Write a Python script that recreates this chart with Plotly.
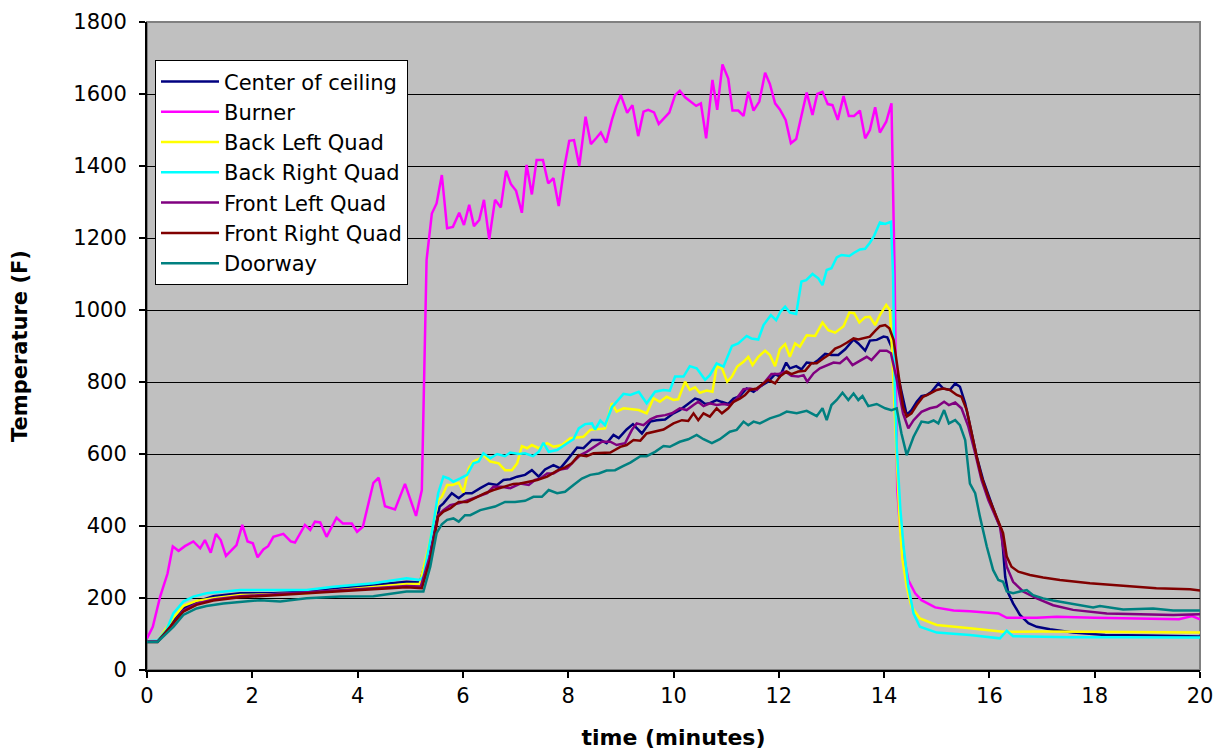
import plotly.graph_objects as go

# ---------------- data ----------------
t_ceiling = [0, 0.2, 0.35, 0.5, 0.69, 0.94, 1.26, 1.77, 2.4, 3.03, 3.67, 4.3, 4.93, 5.18, 5.38, 5.56, 5.63, 5.79, 5.92, 6.04, 6.17, 6.33, 6.49, 6.65, 6.77, 6.9, 7.03, 7.18, 7.31, 7.44, 7.56, 7.72, 7.85, 7.98, 8.17, 8.29, 8.45, 8.61, 8.73, 8.86, 8.96, 9.11, 9.23, 9.4, 9.56, 9.68, 9.84, 10.0, 10.12, 10.25, 10.41, 10.5, 10.6, 10.69, 10.82, 10.91, 11.04, 11.14, 11.26, 11.39, 11.52, 11.64, 11.8, 11.93, 12.02, 12.14, 12.21, 12.33, 12.43, 12.53, 12.66, 12.75, 12.88, 13.0, 13.13, 13.26, 13.42, 13.51, 13.64, 13.73, 13.86, 13.99, 14.06, 14.14, 14.27, 14.43, 14.52, 14.62, 14.71, 14.81, 14.9, 15.03, 15.12, 15.25, 15.35, 15.44, 15.54, 15.63, 15.76, 15.88, 16.01, 16.14, 16.23, 16.26, 16.3, 16.36, 16.45, 16.58, 16.74, 16.9, 17.15, 17.59, 18.2, 19.0, 20.0]
ceiling = [79, 80, 105, 139, 171, 190, 205, 213, 213, 218, 227, 236, 245, 243, 343, 454, 463, 491, 477, 491, 491, 505, 518, 514, 528, 530, 537, 542, 555, 537, 557, 569, 560, 583, 618, 616, 639, 639, 630, 653, 644, 668, 683, 657, 690, 694, 696, 713, 722, 736, 754, 750, 739, 741, 750, 745, 739, 754, 761, 782, 773, 787, 801, 822, 815, 854, 838, 844, 835, 854, 852, 861, 878, 875, 875, 891, 918, 907, 887, 915, 917, 926, 924, 898, 810, 708, 722, 745, 761, 764, 773, 796, 782, 778, 796, 787, 741, 676, 592, 528, 472, 421, 389, 342, 259, 213, 185, 153, 130, 120, 113, 104, 97, 96, 93]

t_burner = [0, 0.11, 0.25, 0.39, 0.49, 0.6, 0.72, 0.88, 1.01, 1.1, 1.21, 1.31, 1.4, 1.5, 1.7, 1.81, 1.91, 2.01, 2.1, 2.21, 2.3, 2.4, 2.59, 2.73, 2.81, 3.0, 3.1, 3.19, 3.29, 3.41, 3.6, 3.72, 3.89, 3.99, 4.1, 4.3, 4.4, 4.52, 4.71, 4.9, 5.11, 5.22, 5.31, 5.41, 5.5, 5.6, 5.7, 5.81, 5.93, 6.02, 6.12, 6.21, 6.31, 6.4, 6.5, 6.61, 6.72, 6.82, 6.91, 7.01, 7.12, 7.21, 7.31, 7.4, 7.52, 7.62, 7.72, 7.82, 7.92, 8.02, 8.11, 8.21, 8.33, 8.43, 8.53, 8.62, 8.72, 8.83, 8.91, 9.0, 9.12, 9.22, 9.33, 9.43, 9.52, 9.63, 9.72, 9.83, 9.92, 10.03, 10.12, 10.22, 10.31, 10.43, 10.52, 10.62, 10.74, 10.83, 10.93, 11.04, 11.12, 11.23, 11.33, 11.42, 11.52, 11.63, 11.74, 11.83, 11.93, 12.02, 12.13, 12.23, 12.33, 12.43, 12.53, 12.64, 12.73, 12.83, 12.93, 13.02, 13.12, 13.23, 13.33, 13.43, 13.54, 13.64, 13.73, 13.83, 13.92, 14.04, 14.14, 14.2, 14.25, 14.3, 14.37, 14.46, 14.59, 14.71, 14.97, 15.32, 15.63, 16.17, 16.33, 16.9, 17.28, 18.0, 19.18, 19.6, 19.85, 20.0]
burner = [88, 120, 204, 268, 343, 331, 344, 357, 338, 361, 326, 378, 361, 317, 347, 403, 357, 352, 313, 335, 344, 370, 378, 357, 354, 403, 389, 412, 410, 370, 423, 407, 407, 384, 398, 520, 534, 455, 446, 517, 428, 500, 1139, 1268, 1296, 1375, 1227, 1231, 1270, 1236, 1292, 1233, 1250, 1306, 1196, 1306, 1285, 1387, 1350, 1331, 1270, 1403, 1321, 1417, 1417, 1352, 1366, 1289, 1391, 1470, 1472, 1400, 1537, 1461, 1477, 1493, 1465, 1528, 1565, 1597, 1548, 1569, 1483, 1551, 1556, 1549, 1517, 1535, 1548, 1597, 1609, 1591, 1581, 1567, 1574, 1477, 1639, 1556, 1682, 1643, 1554, 1554, 1539, 1606, 1554, 1579, 1659, 1628, 1574, 1557, 1528, 1463, 1475, 1542, 1604, 1542, 1600, 1606, 1572, 1569, 1528, 1594, 1539, 1539, 1554, 1477, 1500, 1563, 1493, 1523, 1574, 1100, 500, 400, 320, 250, 213, 194, 174, 165, 163, 157, 145, 145, 148, 145, 143, 141, 150, 141]

t_back_left = [0, 0.2, 0.5, 0.69, 0.94, 1.26, 1.77, 2.4, 3.03, 3.67, 4.3, 4.93, 5.18, 5.38, 5.53, 5.6, 5.7, 5.8, 5.92, 6.01, 6.11, 6.2, 6.33, 6.39, 6.52, 6.68, 6.8, 6.93, 7.03, 7.12, 7.22, 7.31, 7.44, 7.6, 7.72, 7.88, 8.04, 8.17, 8.29, 8.42, 8.54, 8.7, 8.83, 8.92, 9.05, 9.18, 9.34, 9.49, 9.62, 9.74, 9.87, 10.0, 10.09, 10.22, 10.31, 10.41, 10.5, 10.63, 10.74, 10.82, 10.92, 11.02, 11.11, 11.21, 11.33, 11.42, 11.5, 11.61, 11.74, 11.83, 11.93, 12.02, 12.12, 12.21, 12.31, 12.4, 12.53, 12.69, 12.83, 12.94, 13.07, 13.23, 13.34, 13.43, 13.53, 13.64, 13.73, 13.83, 13.92, 14.04, 14.11, 14.16, 14.21, 14.24, 14.27, 14.3, 14.35, 14.43, 14.52, 14.68, 15.0, 15.63, 16.26, 17.0, 18.0, 19.0, 20.0]
back_left = [79, 80, 145, 178, 192, 199, 208, 211, 213, 222, 230, 239, 239, 361, 472, 481, 514, 514, 520, 493, 560, 579, 588, 597, 579, 574, 555, 555, 574, 622, 616, 625, 616, 630, 620, 625, 644, 646, 648, 667, 668, 671, 741, 718, 727, 724, 722, 713, 755, 745, 759, 750, 752, 801, 778, 785, 770, 776, 773, 843, 838, 801, 815, 843, 856, 870, 847, 870, 887, 875, 844, 891, 905, 870, 907, 898, 930, 928, 965, 944, 937, 955, 993, 991, 965, 980, 981, 958, 986, 1014, 1000, 861, 676, 583, 491, 398, 305, 231, 176, 143, 125, 116, 106, 107, 106, 105, 104]

t_back_right = [0, 0.2, 0.37, 0.5, 0.69, 0.88, 1.13, 1.45, 1.77, 2.4, 3.03, 3.54, 4.3, 4.93, 5.18, 5.25, 5.44, 5.53, 5.63, 5.73, 5.82, 5.95, 6.08, 6.2, 6.3, 6.39, 6.52, 6.65, 6.8, 6.9, 7.06, 7.18, 7.33, 7.44, 7.53, 7.63, 7.79, 7.98, 8.1, 8.2, 8.32, 8.45, 8.51, 8.61, 8.7, 8.83, 8.92, 9.05, 9.18, 9.34, 9.49, 9.65, 9.81, 9.93, 10.03, 10.19, 10.31, 10.44, 10.6, 10.69, 10.82, 10.95, 11.11, 11.23, 11.39, 11.48, 11.61, 11.71, 11.85, 11.95, 12.03, 12.12, 12.21, 12.33, 12.43, 12.52, 12.64, 12.75, 12.83, 12.91, 13.0, 13.1, 13.19, 13.34, 13.43, 13.54, 13.64, 13.73, 13.81, 13.92, 14.02, 14.13, 14.17, 14.2, 14.24, 14.27, 14.31, 14.37, 14.46, 14.56, 14.68, 15.0, 15.63, 16.2, 16.33, 16.45, 17.53, 18.5, 20.0]
back_right = [80, 82, 111, 157, 190, 204, 213, 218, 222, 222, 222, 231, 241, 255, 250, 259, 407, 491, 537, 532, 523, 532, 542, 574, 579, 602, 588, 600, 594, 604, 600, 602, 594, 606, 631, 606, 611, 630, 641, 671, 683, 685, 668, 693, 680, 730, 745, 767, 764, 773, 741, 773, 778, 776, 815, 815, 844, 838, 806, 819, 852, 843, 900, 907, 928, 921, 918, 958, 986, 972, 995, 1009, 993, 989, 1079, 1083, 1100, 1088, 1069, 1111, 1116, 1146, 1153, 1150, 1159, 1168, 1170, 1187, 1206, 1243, 1239, 1245, 1100, 800, 620, 540, 444, 343, 231, 157, 120, 104, 97, 88, 109, 94, 91, 91, 90]

t_front_left = [0, 0.2, 0.44, 0.69, 0.94, 1.26, 1.77, 2.4, 3.03, 3.67, 4.3, 4.93, 5.2, 5.38, 5.53, 5.63, 5.76, 5.92, 6.08, 6.27, 6.46, 6.58, 6.74, 6.9, 7.09, 7.25, 7.37, 7.47, 7.6, 7.72, 7.85, 7.98, 8.1, 8.23, 8.35, 8.54, 8.64, 8.8, 8.92, 9.08, 9.21, 9.3, 9.43, 9.56, 9.68, 9.84, 9.97, 10.12, 10.25, 10.38, 10.47, 10.57, 10.69, 10.82, 10.95, 11.07, 11.2, 11.33, 11.45, 11.58, 11.74, 11.86, 11.99, 12.12, 12.24, 12.37, 12.47, 12.54, 12.66, 12.78, 12.91, 13.04, 13.16, 13.29, 13.4, 13.51, 13.67, 13.76, 13.92, 14.05, 14.13, 14.24, 14.36, 14.46, 14.56, 14.71, 14.87, 15.0, 15.14, 15.23, 15.35, 15.47, 15.6, 15.73, 15.85, 15.98, 16.11, 16.2, 16.26, 16.33, 16.45, 16.64, 16.9, 17.21, 17.59, 18.23, 18.86, 19.49, 20.0]
front_left = [79, 79, 118, 165, 184, 196, 205, 210, 215, 221, 227, 233, 232, 320, 430, 444, 458, 463, 472, 481, 491, 509, 509, 505, 518, 514, 528, 532, 546, 546, 557, 560, 579, 597, 606, 625, 634, 634, 625, 630, 667, 685, 680, 696, 704, 708, 713, 727, 722, 736, 745, 733, 741, 736, 739, 736, 754, 780, 782, 778, 801, 822, 822, 829, 817, 815, 819, 801, 824, 838, 847, 854, 852, 868, 847, 856, 870, 861, 887, 887, 880, 806, 713, 671, 694, 717, 727, 731, 745, 736, 743, 727, 676, 602, 528, 472, 426, 398, 342, 287, 245, 218, 199, 180, 167, 157, 155, 153, 155]

t_front_right = [0, 0.2, 0.44, 0.69, 0.94, 1.26, 1.77, 2.4, 3.03, 3.67, 4.3, 4.93, 5.22, 5.38, 5.53, 5.63, 5.76, 5.92, 6.08, 6.27, 6.42, 6.58, 6.77, 6.96, 7.09, 7.25, 7.41, 7.6, 7.79, 7.94, 8.07, 8.2, 8.35, 8.48, 8.64, 8.8, 8.99, 9.11, 9.24, 9.37, 9.49, 9.65, 9.81, 10.0, 10.16, 10.28, 10.38, 10.47, 10.57, 10.69, 10.82, 10.92, 11.04, 11.14, 11.26, 11.36, 11.45, 11.58, 11.68, 11.8, 11.93, 12.02, 12.15, 12.24, 12.37, 12.5, 12.62, 12.72, 12.85, 12.97, 13.07, 13.16, 13.29, 13.42, 13.51, 13.64, 13.73, 13.83, 13.92, 14.02, 14.1, 14.18, 14.27, 14.36, 14.43, 14.52, 14.62, 14.74, 14.87, 15.0, 15.12, 15.25, 15.38, 15.47, 15.57, 15.66, 15.76, 15.85, 15.98, 16.11, 16.23, 16.26, 16.33, 16.42, 16.55, 16.77, 17.02, 17.34, 17.91, 18.54, 19.17, 19.81, 20.0]
front_right = [78, 78, 120, 162, 181, 193, 202, 208, 213, 219, 224, 230, 227, 306, 426, 440, 449, 467, 467, 481, 491, 500, 509, 517, 518, 523, 528, 537, 554, 563, 574, 597, 594, 602, 604, 604, 620, 625, 639, 637, 657, 662, 668, 685, 694, 692, 713, 694, 713, 704, 727, 713, 727, 745, 754, 764, 778, 782, 792, 806, 796, 815, 829, 822, 829, 831, 852, 852, 866, 878, 893, 898, 909, 921, 918, 924, 926, 942, 955, 958, 949, 917, 824, 731, 704, 713, 736, 759, 768, 778, 782, 778, 764, 759, 722, 657, 592, 537, 481, 435, 393, 380, 315, 287, 273, 264, 257, 250, 241, 233, 227, 224, 221]

t_doorway = [0, 0.2, 0.5, 0.69, 0.94, 1.13, 1.45, 1.77, 2.15, 2.53, 3.03, 3.67, 4.3, 4.93, 5.25, 5.38, 5.5, 5.6, 5.7, 5.82, 5.92, 6.04, 6.14, 6.33, 6.49, 6.61, 6.8, 6.99, 7.18, 7.34, 7.5, 7.63, 7.79, 7.94, 8.1, 8.26, 8.42, 8.58, 8.73, 8.89, 9.05, 9.18, 9.37, 9.49, 9.65, 9.81, 9.93, 10.12, 10.28, 10.44, 10.57, 10.73, 10.88, 11.07, 11.2, 11.33, 11.42, 11.52, 11.64, 11.83, 12.02, 12.15, 12.34, 12.53, 12.72, 12.83, 12.91, 13.0, 13.1, 13.21, 13.32, 13.42, 13.51, 13.59, 13.7, 13.86, 14.02, 14.14, 14.24, 14.33, 14.43, 14.56, 14.71, 14.84, 14.94, 15.03, 15.14, 15.23, 15.35, 15.44, 15.54, 15.63, 15.73, 15.82, 15.95, 16.07, 16.17, 16.26, 16.33, 16.45, 16.58, 16.71, 16.83, 17.02, 17.21, 17.59, 17.97, 18.1, 18.54, 19.11, 19.49, 20.0]
doorway = [78, 78, 120, 153, 171, 178, 185, 190, 194, 190, 199, 204, 205, 218, 218, 287, 380, 405, 417, 421, 412, 430, 430, 444, 449, 454, 467, 467, 470, 481, 481, 500, 491, 495, 514, 532, 542, 546, 554, 555, 567, 576, 594, 594, 606, 622, 620, 634, 641, 653, 641, 630, 641, 662, 667, 690, 680, 690, 685, 699, 708, 718, 713, 720, 705, 727, 694, 736, 750, 770, 750, 768, 750, 761, 733, 739, 727, 722, 727, 657, 597, 648, 690, 687, 693, 685, 722, 685, 694, 680, 639, 518, 491, 426, 343, 278, 250, 245, 218, 213, 218, 222, 208, 199, 193, 183, 174, 178, 168, 171, 165, 165]

series_names = ["Center of ceiling", "Burner", "Back Left Quad", "Back Right Quad",
                "Front Left Quad", "Front Right Quad", "Doorway"]
series_colors = ["#000080", "#FF00FF", "#FFFF00", "#00FFFF", "#800080", "#800000", "#008080"]
x_ticks = [0, 2, 4, 6, 8, 10, 12, 14, 16, 18, 20]
y_ticks = [0, 200, 400, 600, 800, 1000, 1200, 1400, 1600, 1800]

# ---------------- figure ----------------
FONT = "DejaVu Sans, Liberation Sans, sans-serif"
xs = [t_ceiling, t_burner, t_back_left, t_back_right, t_front_left, t_front_right, t_doorway]
ys = [ceiling, burner, back_left, back_right, front_left, front_right, doorway]

fig = go.Figure()
for name, color, x, y in zip(series_names, series_colors, xs, ys):
    fig.add_trace(go.Scatter(x=x, y=y, mode="lines", name=name,
                             line=dict(color=color, width=2.5)))

# the page body adds an 8px offset, margins compensate for it
fig.update_layout(
    width=1230, height=753,
    margin=dict(l=139, r=38, t=14, b=91),
    paper_bgcolor="white",
    plot_bgcolor="#C0C0C0",
    font=dict(family=FONT, color="black", size=21),
    showlegend=True,
    legend=dict(x=0.0076, y=0.941, xanchor="left", yanchor="top",
                bgcolor="white", bordercolor="black", borderwidth=1,
                font=dict(family=FONT, size=21, color="black"),
                tracegroupgap=0, itemwidth=58),
    shapes=[dict(type="rect", xref="paper", yref="paper", x0=0, x1=1, y0=0, y1=1,
                 line=dict(color="#808080", width=2), layer="below")],
)
fig.update_xaxes(range=[0, 20], tickvals=x_ticks, showgrid=False, zeroline=False,
                 showline=True, linecolor="black", linewidth=2, automargin=False,
                 ticks="outside", ticklen=6, tickcolor="black", tickwidth=1.5,
                 tickfont=dict(family=FONT, size=21),
                 title=dict(text="<b>time (minutes)</b>", font=dict(family=FONT, size=22), standoff=22))
fig.update_yaxes(range=[0, 1800], tickvals=y_ticks, showgrid=True, gridcolor="black", gridwidth=1,
                 zeroline=False, showline=True, linecolor="black", linewidth=2, automargin=False,
                 ticks="outside", ticklen=6, tickcolor="black", tickwidth=1.5,
                 tickfont=dict(family=FONT, size=21), ticklabelstandoff=8,
                 title=dict(text="<b>Temperature (F)</b>", font=dict(family=FONT, size=21), standoff=40))

fig.write_html("out.html")
